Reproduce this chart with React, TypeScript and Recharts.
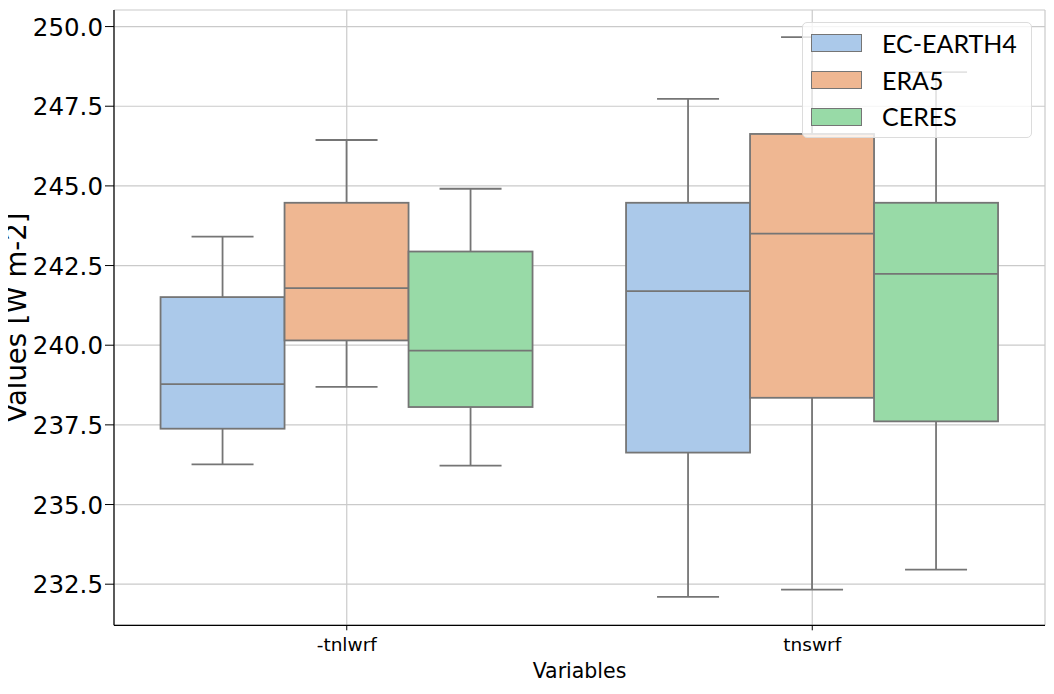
import { ComposedChart, Bar, XAxis, YAxis, CartesianGrid, Legend, Label } from 'recharts';

const categories = ['-tnlwrf', 'tnswrf'];
// each row: [whisker low, Q1, median, Q3, whisker high]
const ecEarth4 = [
    [236.26, 237.38, 238.78, 241.51, 243.41],
    [232.10, 236.63, 241.70, 244.47, 247.73],
];
const era5 = [
    [238.69, 240.15, 241.79, 244.47, 246.44],
    [232.33, 238.35, 243.50, 246.63, 249.67],
];
const ceres = [
    [236.22, 238.06, 239.83, 242.94, 244.91],
    [232.96, 237.61, 242.24, 244.47, 248.57],
];
const seriesNames = ['EC-EARTH4', 'ERA5', 'CERES'];
const seriesColors = ['#abc9ea', '#efb792', '#98daa7'];
const yTicks = [232.5, 235, 237.5, 240, 242.5, 245, 247.5, 250];

const seriesKeys = ['ec', 'era', 'ceres'];
const allStats = [ecEarth4, era5, ceres];

const data = categories.map((c, i) => {
    const row: any = { category: c };
    allStats.forEach((s, k) => {
        row[seriesKeys[k]] = [s[i][0], s[i][4]];
        row[seriesKeys[k] + 'Stats'] = s[i];
    });
    return row;
});

const LINE = '#757575';
const LW = 1.8;
const FONT = 'DejaVu Sans';

function BoxShape(props: any) {
    const { x, y, width, height, stats, color } = props;
    if (!stats || width == null || height == null) return null;
    const top = Math.min(y, y + height);
    const bot = Math.max(y, y + height);
    const [lo, q1, med, q3, hi] = stats;
    // pixel position inside the bar's own [lo, hi] span
    const pix = (v: number) => top + ((hi - v) / (hi - lo)) * (bot - top);
    const cx = x + width / 2;
    const cap = width / 4;
    return (
        <g>
            <line x1={cx} x2={cx} y1={pix(hi)} y2={pix(q3)} stroke={LINE} strokeWidth={LW} />
            <line x1={cx} x2={cx} y1={pix(q1)} y2={pix(lo)} stroke={LINE} strokeWidth={LW} />
            <line x1={cx - cap} x2={cx + cap} y1={pix(hi)} y2={pix(hi)} stroke={LINE} strokeWidth={LW} />
            <line x1={cx - cap} x2={cx + cap} y1={pix(lo)} y2={pix(lo)} stroke={LINE} strokeWidth={LW} />
            <rect x={x} y={pix(q3)} width={width} height={pix(q1) - pix(q3)} fill={color} stroke={LINE} strokeWidth={LW} />
            <line x1={x} x2={x + width} y1={pix(med)} y2={pix(med)} stroke={LINE} strokeWidth={LW} />
        </g>
    );
}

const YTick = ({ x, y, payload }: any) => (
    <text x={x} y={y} dy={9} textAnchor="end" fontSize={24.5} fontFamily={FONT} fill="#000">
        {Number(payload.value).toFixed(1)}
    </text>
);

const XTick = ({ x, y, payload }: any) => (
    <text x={x} y={y} dy="0.76em" textAnchor="middle" fontSize={18.5} fontFamily={FONT} fill="#000">
        {payload.value}
    </text>
);

const YLabel = ({ viewBox }: any) => {
    const cy = viewBox.y + viewBox.height / 2;
    return (
        <g transform={`translate(26, ${cy}) rotate(-90)`}>
            <text x={0} y={0} textAnchor="middle" fontSize={27.5} fontFamily={FONT} fill="#000">
                Values [W m-2]
            </text>
        </g>
    );
};

const XLabel = ({ viewBox }: any) => (
    <text x={viewBox.x + viewBox.width / 2} y={678} textAnchor="middle" fontSize={20.5} fontFamily={FONT} fill="#000">
        Variables
    </text>
);

const LegendBox = () => (
    <div style={{
        width: 230, height: 116, boxSizing: 'border-box', background: 'rgba(255,255,255,0.8)',
        border: '1px solid #dcdcdc', borderRadius: 5, paddingTop: 2, paddingLeft: 8,
    }}>
        {seriesNames.map((n, i) => (
            <div key={n} style={{ display: 'flex', alignItems: 'center', height: 36.7 }}>
                <div style={{ width: 51, height: 18, boxSizing: 'border-box', background: seriesColors[i], border: `1.5px solid ${LINE}` }} />
                <span style={{ marginLeft: 20, fontFamily: 'Lato', fontSize: 25, color: '#000', lineHeight: 1 }}>{n}</span>
            </div>
        ))}
    </div>
);

export default function App() {
    return (
        <div style={{ margin: -8, width: 1054, height: 694, background: '#fff' }}>
            <ComposedChart width={1054} height={694} data={data} margin={{ top: 10, right: 9, left: 0, bottom: 0 }}
                barCategoryGap="10%" barGap={0}>
                <CartesianGrid stroke="#cacaca" strokeWidth={1.2} />
                <XAxis dataKey="category" height={68.7} tick={<XTick />} tickSize={5} tickMargin={7}
                    axisLine={{ stroke: '#000', strokeWidth: 1.2 }} tickLine={{ stroke: '#000' }} interval={0}>
                    <Label content={<XLabel />} />
                </XAxis>
                <XAxis xAxisId="top" dataKey="category" orientation="top" height={0} tick={false} tickLine={false}
                    axisLine={{ stroke: '#000', strokeWidth: 1.2 }} />
                <YAxis domain={[231.21, 250.52]} ticks={yTicks} allowDataOverflow width={114} tick={<YTick />}
                    tickSize={9} tickMargin={2} axisLine={{ stroke: '#000', strokeWidth: 1.2 }} tickLine={{ stroke: '#000' }}>
                    <Label content={<YLabel />} />
                </YAxis>
                <YAxis yAxisId="right" orientation="right" width={0} tick={false} tickLine={false}
                    axisLine={{ stroke: '#000', strokeWidth: 1.2 }} />
                {seriesKeys.map((k, i) => (
                    <Bar key={k} dataKey={k} name={seriesNames[i]} fill={seriesColors[i]} isAnimationActive={false}
                        shape={(p: any) => <BoxShape {...p} stats={p.payload[k + 'Stats']} color={seriesColors[i]} />} />
                ))}
                <Legend content={<LegendBox />} wrapperStyle={{ left: 802, top: 22, width: 230, height: 116 }}
                    layout="vertical" align="center" verticalAlign="middle" />
            </ComposedChart>
        </div>
    );
}
